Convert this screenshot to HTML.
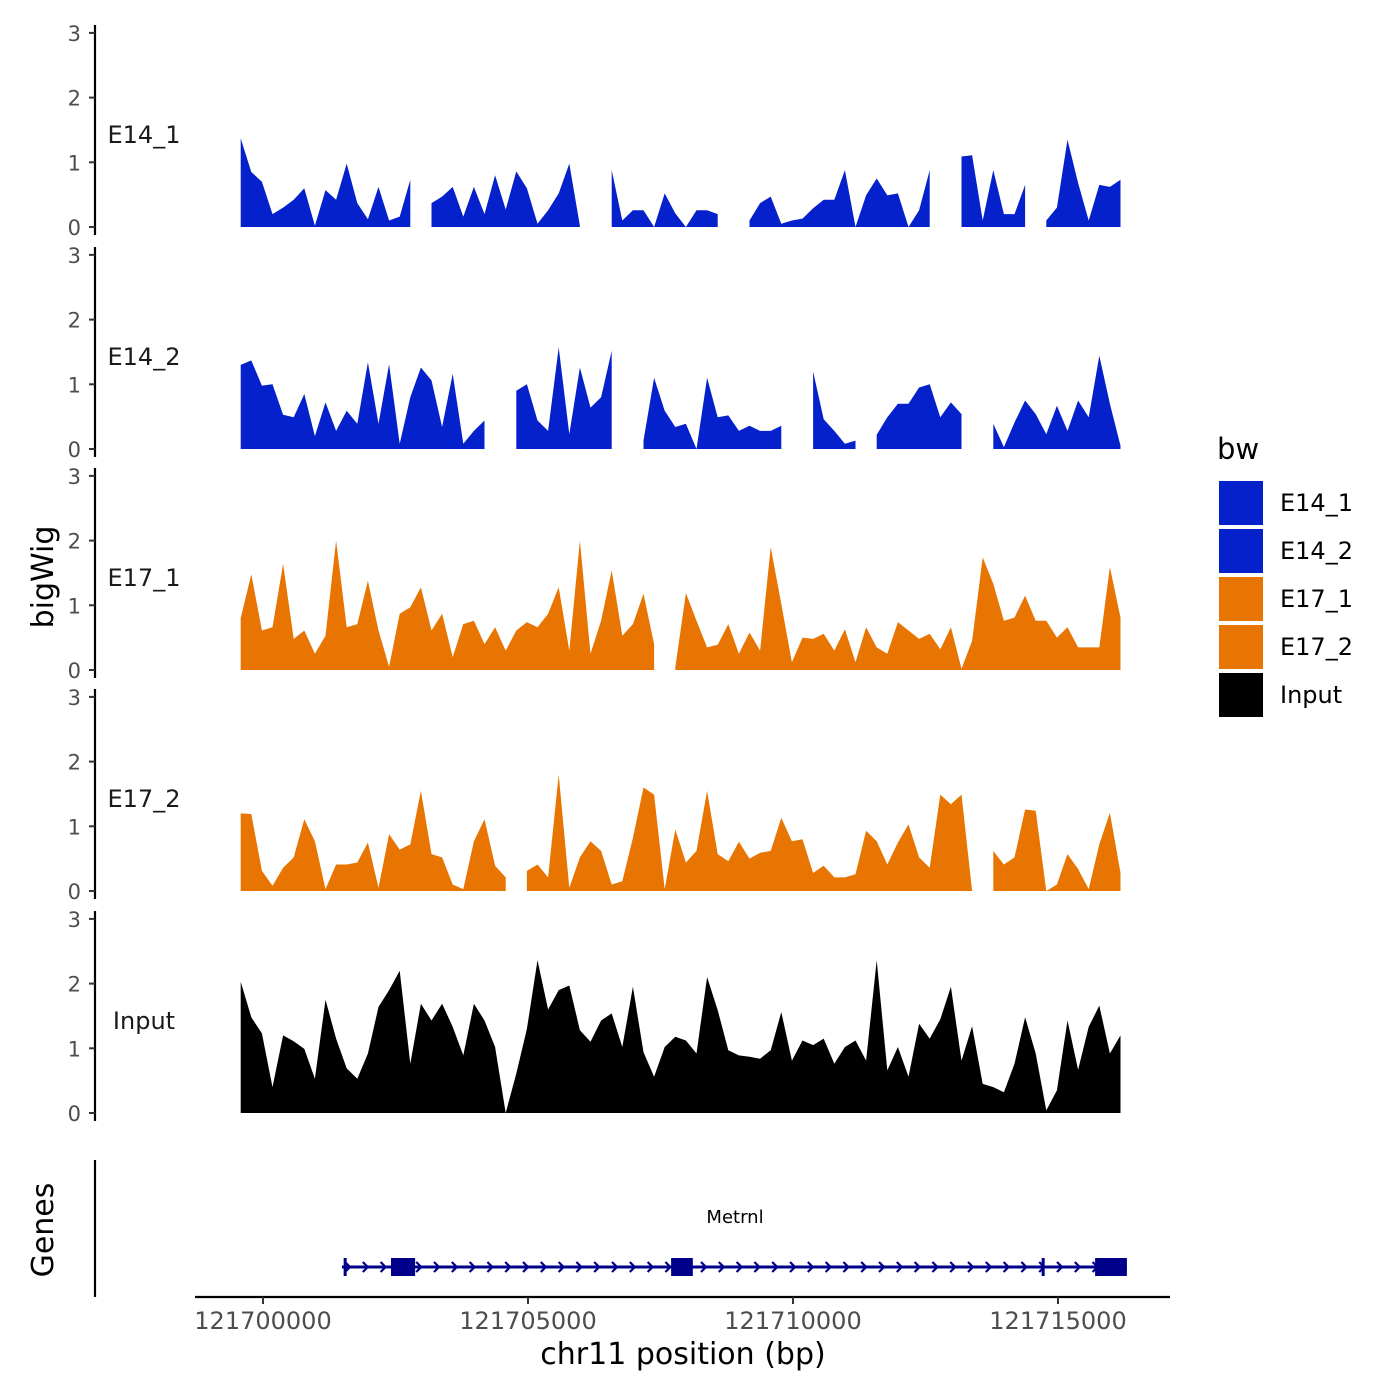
<!DOCTYPE html>
<html><head><meta charset="utf-8"><style>
html,body{margin:0;padding:0;background:#fff;}
svg{display:block;font-family:"DejaVu Sans","Liberation Sans",sans-serif;}
</style></head><body>
<svg id="chart" width="1400" height="1400" viewBox="0 0 1400 1400" xmlns="http://www.w3.org/2000/svg">
<rect width="1400" height="1400" fill="#fff"/>
<g id="tracks"></g>
<g id="genes"></g>
<g id="xaxis"></g>
<text x="0" y="0" transform="translate(53,577) rotate(-90)" text-anchor="middle" font-size="30" fill="#000">bigWig</text>
<text x="0" y="0" transform="translate(53,1230) rotate(-90)" text-anchor="middle" font-size="30" fill="#000">Genes</text>
<text x="683" y="1364" text-anchor="middle" font-size="30" fill="#000">chr11 position (bp)</text>
<g id="legend"></g>
</svg>
<script>
const NS="http://www.w3.org/2000/svg";
const binStart=121699580;
const binStep=200;
const trackNames=["E14_1","E14_2","E17_1","E17_2","Input"];
const trackColors=["#0521cc","#0521cc","#e87502","#e87502","#000000"];
const yTicks=[0,1,2,3];
const xTicks=[121700000,121705000,121710000,121715000];
const valsE14_1=[1.37,0.85,0.7,0.2,0.3,0.42,0.6,0.02,0.57,0.42,0.98,0.37,0.12,0.62,0.1,0.16,0.73,null,0.37,0.47,0.62,0.16,0.62,0.2,0.8,0.27,0.86,0.6,0.05,0.26,0.52,0.98,0.02,null,null,0.88,0.1,0.26,0.26,0,0.52,0.21,0,0.26,0.26,0.2,null,null,0.1,0.37,0.47,0.05,0.1,0.13,0.29,0.42,0.42,0.88,0,0.49,0.75,0.49,0.52,0,0.26,0.88,null,null,1.09,1.11,0.1,0.88,0.2,0.2,0.65,null,0.1,0.3,1.35,0.68,0.1,0.65,0.62,0.73];
const valsE14_2=[1.3,1.37,0.98,1.0,0.53,0.49,0.85,0.2,0.72,0.28,0.59,0.39,1.34,0.39,1.31,0.08,0.8,1.26,1.06,0.34,1.16,0.08,0.28,0.44,null,null,0.9,1.0,0.44,0.28,1.57,0.23,1.26,0.64,0.8,1.52,null,null,0.13,1.1,0.59,0.34,0.39,0,1.1,0.49,0.52,0.28,0.36,0.28,0.28,0.36,null,null,1.2,0.46,0.28,0.08,0.13,null,0.22,0.49,0.7,0.7,0.95,1.0,0.49,0.72,0.54,null,null,0.39,0.03,0.41,0.75,0.54,0.23,0.67,0.28,0.75,0.49,1.44,0.7,0.05];
const valsE17_1=[0.8,1.48,0.61,0.66,1.64,0.48,0.61,0.25,0.53,2.0,0.66,0.71,1.38,0.61,0.05,0.87,0.97,1.28,0.61,0.87,0.2,0.71,0.76,0.4,0.66,0.3,0.61,0.74,0.66,0.87,1.28,0.3,2.0,0.25,0.76,1.54,0.53,0.71,1.18,0.4,null,0.04,1.19,0.76,0.35,0.39,0.71,0.25,0.58,0.3,1.9,1.02,0.12,0.5,0.48,0.56,0.3,0.63,0.12,0.66,0.35,0.25,0.74,0.61,0.48,0.56,0.32,0.66,0.02,0.45,1.74,1.33,0.76,0.81,1.15,0.76,0.76,0.5,0.66,0.35,0.35,0.35,1.59,0.81];
const valsE17_2=[1.2,1.19,0.31,0.08,0.36,0.52,1.11,0.77,0.03,0.41,0.41,0.44,0.75,0.05,0.88,0.64,0.72,1.55,0.57,0.52,0.1,0.03,0.77,1.11,0.39,0.21,null,0.31,0.41,0.21,1.8,0.05,0.52,0.77,0.62,0.1,0.15,0.82,1.6,1.49,0.03,0.95,0.44,0.62,1.55,0.57,0.46,0.76,0.5,0.59,0.62,1.13,0.77,0.8,0.28,0.39,0.21,0.21,0.26,0.93,0.77,0.41,0.75,1.03,0.52,0.36,1.49,1.34,1.49,0,null,0.62,0.41,0.52,1.26,1.24,0,0.1,0.57,0.34,0.03,0.72,1.21,0.28];
const valsInput=[2.03,1.48,1.23,0.4,1.2,1.11,0.99,0.53,1.75,1.15,0.69,0.53,0.92,1.64,1.9,2.2,0.76,1.69,1.43,1.69,1.33,0.89,1.69,1.43,1.02,0,0.61,1.3,2.36,1.6,1.9,1.97,1.28,1.1,1.43,1.54,1.02,1.95,0.94,0.56,1.02,1.18,1.12,0.92,2.1,1.59,0.97,0.89,0.87,0.84,0.97,1.56,0.81,1.12,1.05,1.15,0.76,1.02,1.12,0.81,2.36,0.66,1.02,0.56,1.38,1.15,1.45,1.95,0.81,1.34,0.45,0.4,0.32,0.76,1.48,0.92,0.04,0.35,1.43,0.67,1.33,1.66,0.92,1.2];
const allVals=[valsE14_1,valsE14_2,valsE17_1,valsE17_2,valsInput];
const geneStart=121701490, geneEnd=121716300;
const exonStarts=[121702415,121707700,121715700];
const exonEnds=[121702870,121708110,121716300];
const geneMarks=[121701550,121714720];

function xs(bp){return 263+(bp-121700000)*0.053;}
const baselines=[227,449,670,891,1113];
const unitPx=64.7;
function el(tag,attrs,parent){const e=document.createElementNS(NS,tag);for(const k in attrs)e.setAttribute(k,attrs[k]);parent.appendChild(e);return e;}

const tracks=document.getElementById('tracks');
allVals.forEach((vals,t)=>{
  const base=baselines[t];
  const ys=v=>base-v*unitPx;
  const g=el('g',{},tracks);
  
  
  let run=[];
  const flush=()=>{
    if(run.length){
      let d='M'+xs(run[0][0]).toFixed(1)+','+base;
      run.forEach(p=>{d+=' L'+xs(p[0]).toFixed(1)+','+ys(p[1]).toFixed(1);});
      d+=' L'+xs(run[run.length-1][0]).toFixed(1)+','+base+' Z';
      const p=el('path',{d:d,fill:trackColors[t]},g);
      
      
    }
    run=[];
  };
  vals.forEach((v,i)=>{const bp=binStart+i*binStep;if(v===null)flush();else run.push([bp,v]);});
  flush();
  const ax=el('line',{x1:95,x2:95,y1:base-202,y2:base+8,stroke:'#000','stroke-width':2.2},g);
  
  
  yTicks.forEach(tk=>{
    const y=ys(tk);
    const tl=el('line',{x1:89,x2:95,y1:y,y2:y,stroke:'#333','stroke-width':2},g);
    
    
    const tx=el('text',{x:81,y:y+8,'text-anchor':'end','font-size':21,fill:'#4d4d4d'},g);
    
    
    tx.textContent=tk;
  });
  const lab=el('text',{x:144,y:base-84,'text-anchor':'middle','font-size':24,fill:'#1a1a1a'},g);
  
  
  lab.textContent=trackNames[t];
});

const gg=document.getElementById('genes');
const gy=1267;
const gl=el('line',{x1:95,x2:95,y1:1160,y2:1297,stroke:'#000','stroke-width':2.2},gg);


const gline=el('line',{x1:xs(geneStart),x2:xs(geneEnd),y1:gy,y2:gy,stroke:'#00008b','stroke-width':3},gg);


for(let x=xs(geneStart)+3;x<xs(geneEnd)-6;x+=17.8){
  const c=el('path',{d:`M${x.toFixed(1)},${gy-5} L${(x+5).toFixed(1)},${gy} L${x.toFixed(1)},${gy+5}`,fill:'none',stroke:'#00008b','stroke-width':2.2},gg);
  
  
}
geneMarks.forEach(m=>{
  const l=el('line',{x1:xs(m),x2:xs(m),y1:gy-9,y2:gy+9,stroke:'#00008b','stroke-width':3},gg);
  
  
});
exonStarts.forEach((s,i)=>{
  const r=el('rect',{x:xs(s),y:gy-9,width:xs(exonEnds[i])-xs(s),height:18,fill:'#00008b'},gg);
  
  
});
const gname=el('text',{x:735,y:1223,'text-anchor':'middle','font-size':18,fill:'#000'},gg);


gname.textContent='Metrnl';

const xa=document.getElementById('xaxis');
el('line',{x1:195,x2:1170,y1:1297,y2:1297,stroke:'#000','stroke-width':2.2},xa);
xTicks.forEach(t=>{
  const x=xs(t);
  const l=el('line',{x1:x,x2:x,y1:1297,y2:1304,stroke:'#333','stroke-width':2},xa);
  
  
  const tx=el('text',{x:x,y:1329,'text-anchor':'middle','font-size':24,fill:'#4d4d4d'},xa);
  
  
  tx.textContent=t;
});

const lg=document.getElementById('legend');
const lt=el('text',{x:1217,y:459,'font-size':29,fill:'#000'},lg);


lt.textContent='bw';
trackNames.forEach((n,i)=>{
  const y=481+i*48;
  const r=el('rect',{x:1219,y:y,width:44,height:44,fill:trackColors[i]},lg);
  
  
  const t=el('text',{x:1280,y:y+30,'font-size':24,fill:'#000'},lg);
  
  
  t.textContent=n;
});
</script>
</body></html>
